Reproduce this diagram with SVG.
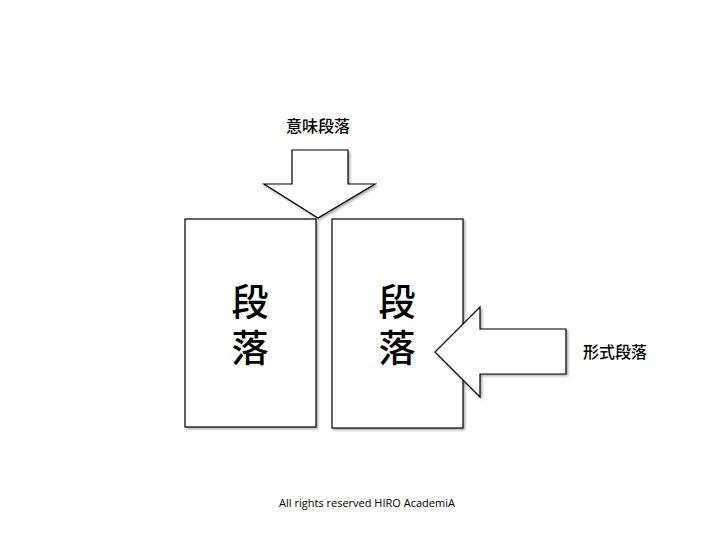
<svg xmlns="http://www.w3.org/2000/svg" width="720" height="540" viewBox="0 0 720 540">
<style>
.s{fill:#fff;stroke:#000;stroke-width:1.2}
.t{font-family:"Noto Sans CJK JP","Noto Sans CJK SC",sans-serif;fill:#000;font-weight:500}
.b{font-size:37px;text-anchor:middle}
</style>
<defs><filter id="sh"><feDropShadow dx="1.5" dy="1.5" stdDeviation="1" flood-opacity="0.35"/></filter></defs>
<rect width="720" height="540" fill="#fff"/>
<g id="box1"><rect class="s" x="185" y="219" width="131" height="208" filter="url(#sh)"/>
<text class="t b" x="250" y="316">段</text>
<text class="t b" x="250" y="362">落</text></g>
<g id="box2"><rect class="s" x="332" y="219" width="131" height="209" filter="url(#sh)"/>
<text class="t b" x="397" y="316">段</text>
<text class="t b" x="397" y="362">落</text></g>
<g id="connectors">
<polygon class="s" filter="url(#sh)" points="292,150 348,150 348,184 375,184 318,218 264,184 292,184"/>
<polygon class="s" filter="url(#sh)" points="566,329 480,329 480,307 435,352 480,397 480,374 566,374"/>
</g>
<g id="label1"><text class="t" x="318" y="132" font-size="16" text-anchor="middle">意味段落</text></g>
<g id="label2"><text class="t" x="615" y="358" font-size="16" text-anchor="middle">形式段落</text></g>
<text x="367" y="507" font-family="'Open Sans',sans-serif" font-size="11" text-anchor="middle">All rights reserved HIRO AcademiA</text>
</svg>
